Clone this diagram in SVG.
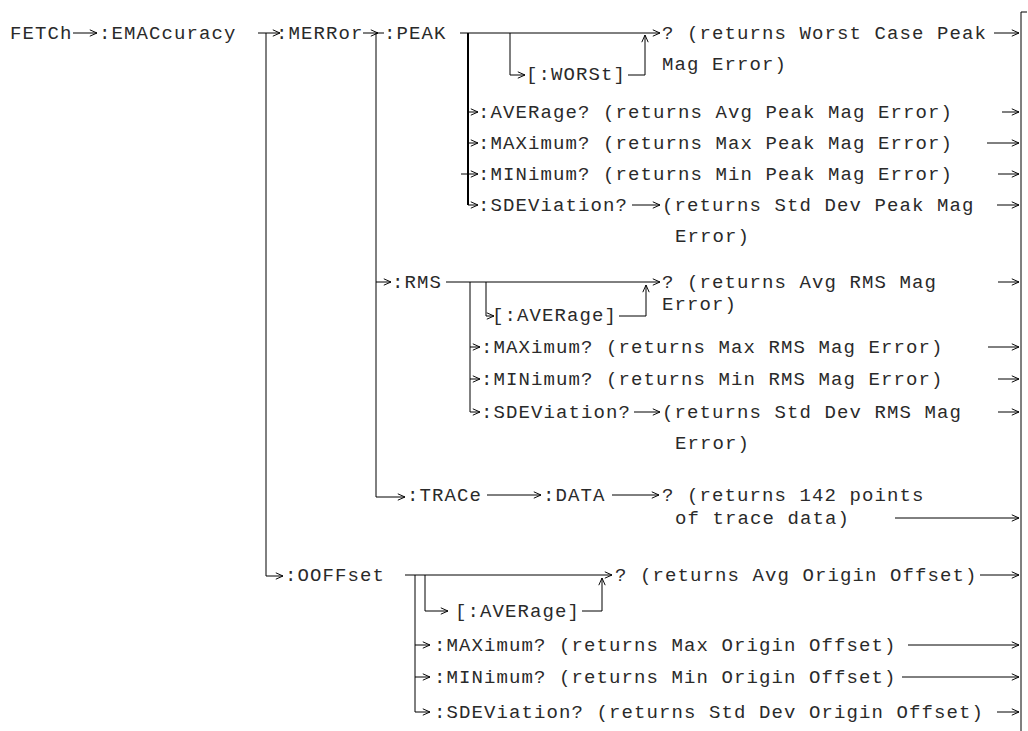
<svg xmlns="http://www.w3.org/2000/svg" width="1028" height="731" viewBox="0 0 1028 731">
<defs>
<marker id="ah" viewBox="0 0 10 10" refX="10" refY="5" markerWidth="8" markerHeight="8" markerUnits="userSpaceOnUse" orient="auto">
<path d="M1,1 L10,5 L1,9" fill="none" stroke="#000" stroke-width="1.2"/>
</marker>
<style>
text{font-family:"Liberation Mono","DejaVu Sans Mono",monospace;font-size:19px;letter-spacing:1.1px;fill:#2a2a2a}
.c path{fill:none;stroke:#000;stroke-width:1}
.c path.a{marker-end:url(#ah)}
.c path.t{stroke-width:2}
</style>
</defs>
<rect width="1028" height="731" fill="#fff"/>
<g class="c" id="connectors">
<path class="a" d="M73,33 H97"/>
<path class="a" d="M258,33 H280"/>
<path class="a" d="M266,33 V576 H283"/>
<path class="a" d="M363,33 H378"/>
<path d="M376,33 H384"/>
<path d="M376,33 V497"/>
<path class="a" d="M376,497 H405"/>
<path class="a" d="M376,282 H391"/>
<path class="a" d="M460,33 H660"/>
<path class="t" d="M468,33 V205"/>
<path class="a" d="M468,112 H478"/>
<path class="a" d="M468,143 H478"/>
<path class="a" d="M461,174 H478"/>
<path class="a" d="M468,205 H478"/>
<path class="a" d="M510,33 V75 H525"/>
<path class="a" d="M628,75 H645 V35"/>
<path class="a" d="M632,205 H660"/>
<path class="a" d="M994,33 H1019"/>
<path class="a" d="M1002,112 H1019"/>
<path class="a" d="M987,143 H1019"/>
<path class="a" d="M998,174 H1019"/>
<path class="a" d="M997,205 H1019"/>
<path class="a" d="M446,282 H660"/>
<path class="a" d="M470,282 V412 H480"/>
<path class="a" d="M470,347 H480"/>
<path class="a" d="M470,379 H480"/>
<path class="a" d="M486,282 V316 H494"/>
<path class="a" d="M619,316 H646 V285"/>
<path class="a" d="M634,412 H660"/>
<path class="a" d="M998,282 H1019"/>
<path class="a" d="M988,347 H1019"/>
<path class="a" d="M998,379 H1019"/>
<path class="a" d="M998,412 H1019"/>
<path class="a" d="M487,495 H541"/>
<path class="a" d="M612,495 H659"/>
<path class="a" d="M895,518 H1019"/>
<path class="a" d="M405,575 H612"/>
<path class="a" d="M415,575 V712 H430"/>
<path class="a" d="M415,645 H430"/>
<path class="a" d="M415,677 H430"/>
<path class="a" d="M425,575 V611 H448"/>
<path class="a" d="M582,611 H602 V578"/>
<path class="a" d="M980,575 H1019"/>
<path class="a" d="M908,645 H1019"/>
<path class="a" d="M902,677 H1019"/>
<path class="a" d="M997,712 H1019"/>
<path d="M1021,12 V731 M1021,12 H1027"/>
</g>
<g id="n-fetch"><text x="10" y="39">FETCh</text></g>
<g id="n-emac"><text x="99" y="39">:EMACcuracy</text></g>
<g id="n-merror"><text x="276" y="39">:MERRor</text></g>
<g id="n-peak"><text x="384" y="39">:PEAK</text></g>
<g id="n-peak-q"><text x="662" y="39">? (returns Worst Case Peak</text><text x="662" y="70">Mag Error)</text></g>
<g id="n-peak-worst"><text x="526" y="80">[:WORSt]</text></g>
<g id="n-peak-avg"><text x="478" y="118">:AVERage? (returns Avg Peak Mag Error)</text></g>
<g id="n-peak-max"><text x="478" y="149">:MAXimum? (returns Max Peak Mag Error)</text></g>
<g id="n-peak-min"><text x="478" y="180">:MINimum? (returns Min Peak Mag Error)</text></g>
<g id="n-peak-sdev"><text x="478" y="211">:SDEViation?</text></g>
<g id="n-peak-sdev-ret"><text x="662" y="211">(returns Std Dev Peak Mag</text><text x="675" y="242">Error)</text></g>
<g id="n-rms"><text x="392" y="288">:RMS</text></g>
<g id="n-rms-q"><text x="662" y="288">? (returns Avg RMS Mag</text><text x="662" y="310">Error)</text></g>
<g id="n-rms-avg"><text x="492" y="321">[:AVERage]</text></g>
<g id="n-rms-max"><text x="481" y="353">:MAXimum? (returns Max RMS Mag Error)</text></g>
<g id="n-rms-min"><text x="481" y="385">:MINimum? (returns Min RMS Mag Error)</text></g>
<g id="n-rms-sdev"><text x="481" y="418">:SDEViation?</text></g>
<g id="n-rms-sdev-ret"><text x="662" y="418">(returns Std Dev RMS Mag</text><text x="675" y="449">Error)</text></g>
<g id="n-trace"><text x="407" y="501">:TRACe</text></g>
<g id="n-data"><text x="543" y="501">:DATA</text></g>
<g id="n-data-q"><text x="662" y="501">? (returns 142 points</text><text x="675" y="524">of trace data)</text></g>
<g id="n-ooff"><text x="285" y="581">:OOFFset</text></g>
<g id="n-ooff-q"><text x="615" y="581">? (returns Avg Origin Offset)</text></g>
<g id="n-ooff-avg"><text x="455" y="617">[:AVERage]</text></g>
<g id="n-ooff-max"><text x="434" y="651">:MAXimum? (returns Max Origin Offset)</text></g>
<g id="n-ooff-min"><text x="434" y="683">:MINimum? (returns Min Origin Offset)</text></g>
<g id="n-ooff-sdev"><text x="434" y="718">:SDEViation? (returns Std Dev Origin Offset)</text></g>
</svg>
